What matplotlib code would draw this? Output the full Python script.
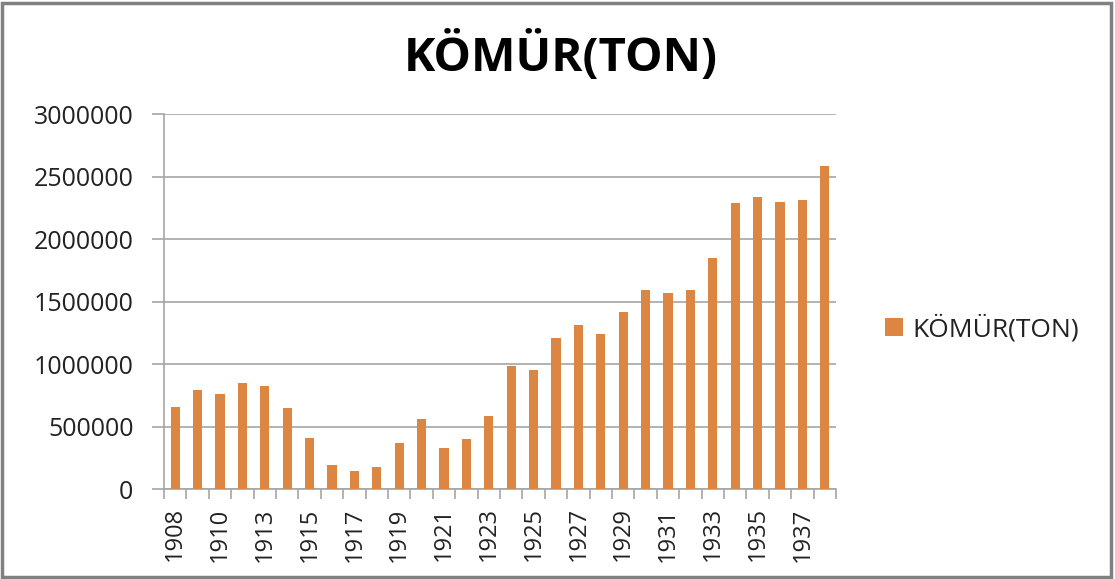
import matplotlib
matplotlib.use("Agg")
import matplotlib.pyplot as plt
from matplotlib.patches import Rectangle
import numpy as np

years = [1908, 1909, 1910, 1911, 1913, 1914, 1915, 1916, 1917, 1918,
         1919, 1920, 1921, 1922, 1923, 1924, 1925, 1926, 1927, 1928,
         1929, 1930, 1931, 1932, 1933, 1934, 1935, 1936, 1937, 1938]
coal_tons = [658000, 791000, 759000, 852000, 823000, 647000, 413000, 197000, 146000, 176000,
             373000, 565000, 330000, 402000, 586000, 988000, 956000, 1212000, 1311000, 1241000,
             1417000, 1591000, 1569000, 1591000, 1846000, 2286000, 2336000, 2296000, 2310000, 2582000]
y_ticks = [0, 500000, 1000000, 1500000, 2000000, 2500000, 3000000]
series_name = "KÖMÜR(TON)"
title = "KÖMÜR(TON)"

bar_color = "#DD8641"
grid_color = "#A6A6A6"
label_font = ["Open Sans", "DejaVu Sans"]

fig = plt.figure(figsize=(11.15, 5.79), dpi=100)
ax = fig.add_axes([0.1471, 0.1549, 0.6027, 0.6482])

x = np.arange(len(years))
bars = ax.bar(x, coal_tons, width=0.41, color=bar_color, zorder=3, label=series_name)

ax.set_xlim(-0.5, len(years) - 0.5)
ax.set_ylim(0, 3000000)
ax.set_yticks(y_ticks)
ax.set_yticklabels([str(v) for v in y_ticks], fontsize=18, family=label_font, color="#222222")
ax.yaxis.grid(True, color=grid_color, linewidth=1.2, zorder=0)
ax.tick_params(axis="y", length=9, color=grid_color, width=1.2, pad=13)

ax.set_xticks(x[::2])
ax.set_xticklabels([str(years[i]) for i in x[::2]], rotation=90, fontsize=17,
                   family=label_font, color="#222222")
ax.tick_params(axis="x", which="major", length=0, pad=13)
ax.set_xticks(np.arange(-0.5, len(years)), minor=True)
ax.tick_params(axis="x", which="minor", length=7, color=grid_color, width=1.2)

for side in ["top", "right"]:
    ax.spines[side].set_visible(False)
for side in ["left", "bottom"]:
    ax.spines[side].set_color(grid_color)
    ax.spines[side].set_linewidth(1.2)

fig.text(0.503, 0.902, title, ha="center", va="center", fontsize=34,
         fontweight="bold", family=label_font, color="#000000")

leg = fig.legend(handles=[bars], labels=[series_name], loc="center left",
                 bbox_to_anchor=(0.772, 0.433), frameon=False,
                 handlelength=0.7, handleheight=0.65, handletextpad=0.35,
                 prop={"family": label_font, "size": 19})
for t in leg.get_texts():
    t.set_color("#222222")

fig.patches.append(Rectangle((0.002, 0.004), 0.994, 0.99, transform=fig.transFigure,
                             fill=False, edgecolor="#808080", linewidth=2.5))

fig.savefig("out.png", dpi=100)
